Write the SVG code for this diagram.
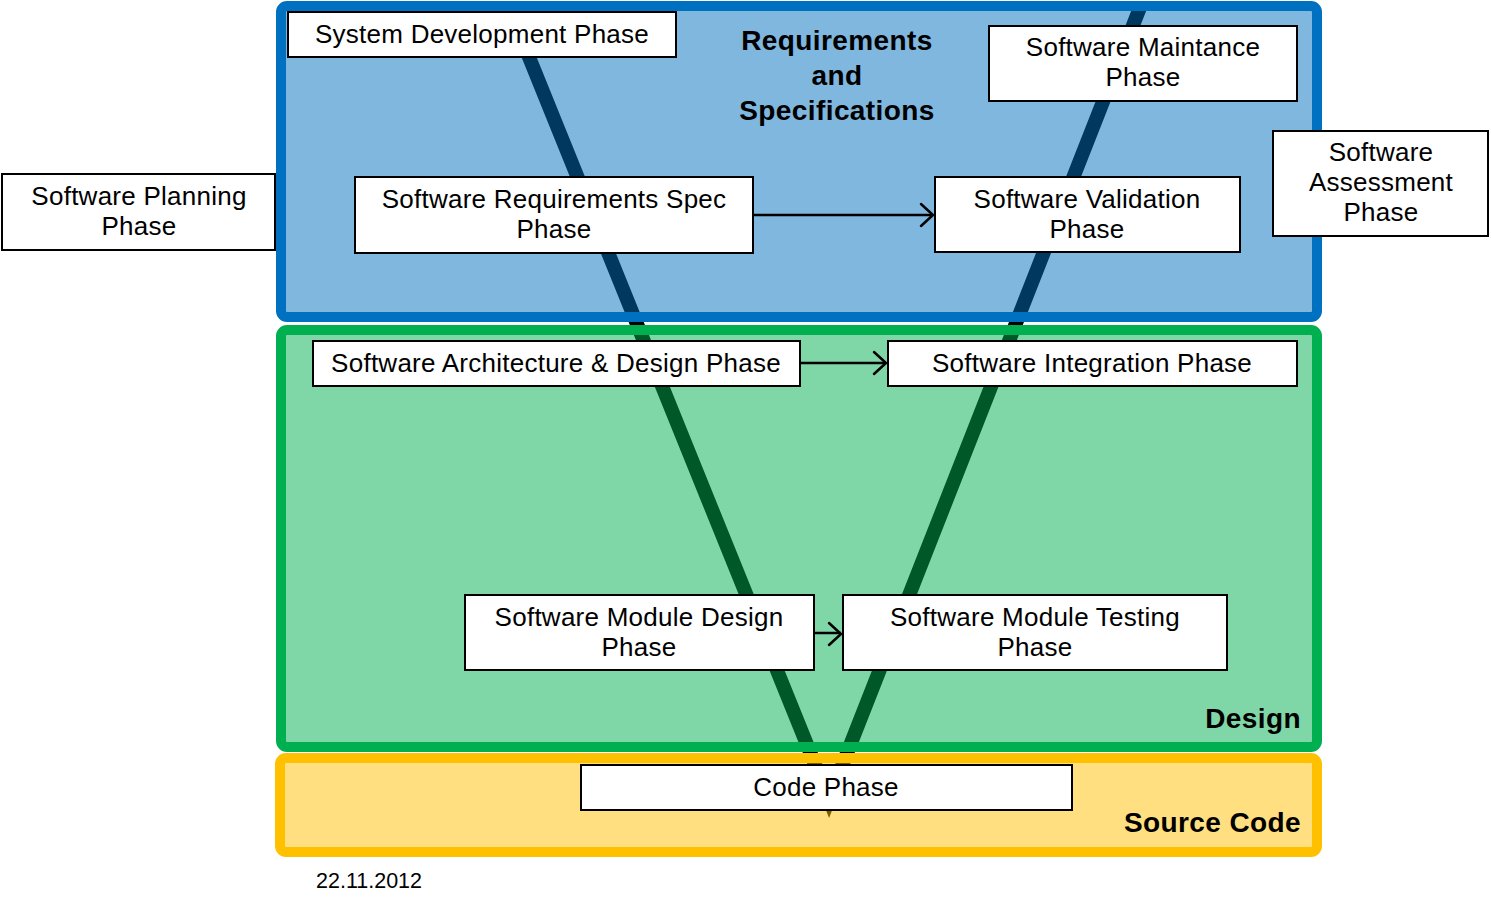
<svg xmlns="http://www.w3.org/2000/svg" width="1491" height="899" viewBox="0 0 1491 899">
<style>
text{font-family:"Liberation Sans",Arial,sans-serif;fill:#000}
.t{font-size:26px;text-anchor:middle;letter-spacing:0.25px}
.b{font-size:28px;font-weight:bold;letter-spacing:0.4px}
.box{fill:#fff;stroke:#000;stroke-width:2}
.arr{stroke:#000;stroke-width:2.5;fill:none}
.ah{stroke:#000;stroke-width:2.5;fill:none;stroke-linecap:round;stroke-linejoin:miter}
</style>
<rect width="1491" height="899" fill="#fff"/>
<g id="vshape">
<polyline points="508,5 829,799 1141,5" fill="none" stroke="#000" stroke-width="14" stroke-linejoin="miter" stroke-miterlimit="10"/>
</g>
<g id="region-requirements">
<rect x="281" y="6" width="1036" height="311" rx="6" fill="#0070C0" fill-opacity="0.5" stroke="#0070C0" stroke-width="10"/>
<text class="b" x="837" y="50" text-anchor="middle">Requirements</text>
<text class="b" x="837" y="85" text-anchor="middle">and</text>
<text class="b" x="837" y="120" text-anchor="middle">Specifications</text>
</g>
<g id="region-design">
<rect x="281" y="330" width="1036" height="417" rx="6" fill="#00B050" fill-opacity="0.5" stroke="#00B050" stroke-width="10"/>
<text class="b" x="1301" y="728" text-anchor="end">Design</text>
</g>
<g id="region-source">
<rect x="280" y="758" width="1037" height="94" rx="6" fill="#FFC000" fill-opacity="0.5" stroke="#FFC000" stroke-width="10"/>
<text class="b" x="1301" y="832" text-anchor="end">Source Code</text>
</g>
<g id="n-sysdev">
<rect class="box" x="288" y="12" width="388" height="45"/>
<text class="t" x="482" y="43">System Development Phase</text>
</g>
<g id="n-maint">
<rect class="box" x="989" y="26" width="308" height="75"/>
<text class="t" x="1143" y="56">Software Maintance</text>
<text class="t" x="1143" y="86">Phase</text>
</g>
<g id="n-planning">
<rect class="box" x="2" y="174" width="273" height="76"/>
<text class="t" x="139" y="205">Software Planning</text>
<text class="t" x="139" y="235">Phase</text>
</g>
<g id="n-assess">
<rect class="box" x="1273" y="131" width="215" height="105"/>
<text class="t" x="1381" y="161">Software</text>
<text class="t" x="1381" y="191">Assessment</text>
<text class="t" x="1381" y="221">Phase</text>
</g>
<g id="n-srs">
<rect class="box" x="355" y="177" width="398" height="76"/>
<text class="t" x="554" y="208">Software Requirements Spec</text>
<text class="t" x="554" y="238">Phase</text>
</g>
<g id="n-valid">
<rect class="box" x="935" y="177" width="305" height="75"/>
<text class="t" x="1087" y="208">Software Validation</text>
<text class="t" x="1087" y="238">Phase</text>
</g>
<g id="n-arch">
<rect class="box" x="313" y="341" width="487" height="45"/>
<text class="t" x="556" y="372">Software Architecture &amp; Design Phase</text>
</g>
<g id="n-integ">
<rect class="box" x="888" y="341" width="409" height="45"/>
<text class="t" x="1092" y="372">Software Integration Phase</text>
</g>
<g id="n-moddesign">
<rect class="box" x="465" y="595" width="349" height="75"/>
<text class="t" x="639" y="626">Software Module Design</text>
<text class="t" x="639" y="656">Phase</text>
</g>
<g id="n-modtest">
<rect class="box" x="843" y="595" width="384" height="75"/>
<text class="t" x="1035" y="626">Software Module Testing</text>
<text class="t" x="1035" y="656">Phase</text>
</g>
<g id="n-code">
<rect class="box" x="581" y="765" width="491" height="45"/>
<text class="t" x="826" y="796">Code Phase</text>
</g>
<g id="connectors">
<line class="arr" x1="754" y1="215" x2="933" y2="215"/>
<polyline class="ah" points="921,204 933,215 921,226"/>
<line class="arr" x1="801" y1="363" x2="886" y2="363"/>
<polyline class="ah" points="874,352 886,363 874,374"/>
<line class="arr" x1="815" y1="633" x2="841" y2="633"/>
<polyline class="ah" points="829,623 841,634 829,645"/>
</g>
<text x="316" y="888" font-size="21.5" fill="#222">22.11.2012</text>
</svg>
